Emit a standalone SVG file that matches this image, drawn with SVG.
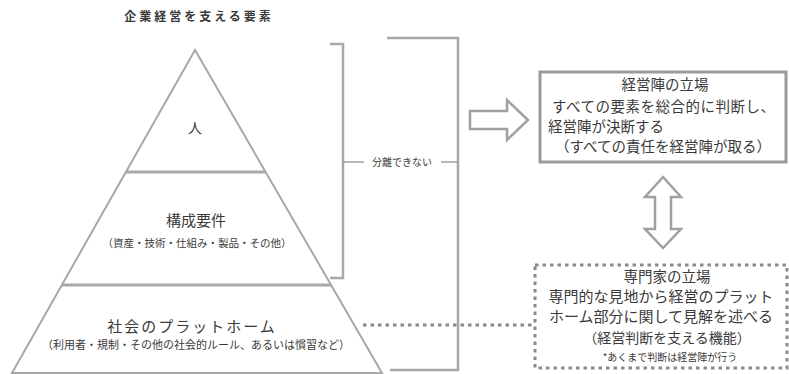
<svg xmlns="http://www.w3.org/2000/svg" width="789" height="374" viewBox="0 0 789 374">
<style>
text{font-family:"Noto Sans CJK JP","Noto Sans",sans-serif;fill:#3a3a3a}
.ln{fill:none;stroke:#a8a8a8;stroke-width:2}
.div{fill:none;stroke:#a8a8a8;stroke-width:3}
.br{fill:none;stroke:#a8a8a8;stroke-width:2.5}
.dot{fill:none;stroke:#8a8a8a;stroke-width:3;stroke-dasharray:3.5 4}
.blk{fill:#fff;stroke:#a0a0a0;stroke-width:2.5}
</style>
<rect width="789" height="374" fill="#fff"/>
<text x="199" y="21" font-size="12" font-weight="bold" text-anchor="middle" letter-spacing="3">企業経営を支える要素</text>
<g id="pyramid">
<polygon class="ln" points="195,50 12,373 382,373"/>
<line class="div" x1="126" y1="172" x2="266" y2="172"/>
<line class="div" x1="62" y1="285" x2="331" y2="285"/>
</g>
<g id="node-hito"><text x="195" y="133" font-size="14" text-anchor="middle">人</text></g>
<g id="node-kousei">
<text x="196" y="226" font-size="15" text-anchor="middle">構成要件</text>
<text x="197" y="247" font-size="10.5" text-anchor="middle">（資産・技術・仕組み・製品・その他）</text>
</g>
<g id="node-platform">
<text x="192" y="332" font-size="15" text-anchor="middle" letter-spacing="2">社会のプラットホーム</text>
<text x="196" y="349" font-size="11" text-anchor="middle">（利用者・規制・その他の社会的ルール、あるいは慣習など）</text>
</g>
<g id="node-keiei">
<rect x="540" y="72" width="246" height="90" fill="#fff" stroke="#9a9a9a" stroke-width="3"/>
<text x="665" y="90" font-size="14.5" text-anchor="middle">経営陣の立場</text>
<text x="552" y="112" font-size="14.5" letter-spacing="0.5">すべての要素を総合的に判断し、</text>
<text x="548" y="132" font-size="14.5">経営陣が決断する</text>
<text x="663" y="152" font-size="14.5" text-anchor="middle">（すべての責任を経営陣が取る）</text>
</g>
<g id="node-senmon">
<rect class="dot" x="535" y="265" width="252" height="103"/>
<text x="667" y="282" font-size="14.5" text-anchor="middle">専門家の立場</text>
<text x="661" y="302" font-size="15" text-anchor="middle">専門的な見地から経営のプラット</text>
<text x="661" y="322" font-size="15" text-anchor="middle">ホーム部分に関して見解を述べる</text>
<text x="667" y="343" font-size="14" text-anchor="middle">（経営判断を支える機能）</text>
<text x="670" y="361" font-size="10" text-anchor="middle">*あくまで判断は経営陣が行う</text>
</g>
<g id="connectors">
<path class="br" d="M330,44 H343 V278 H330"/>
<path class="br" d="M387,38 H458 V370 H390"/>
<line x1="343" y1="162" x2="364" y2="162" stroke="#a0a0a0" stroke-width="1.5"/>
<line x1="441" y1="162" x2="458" y2="162" stroke="#a0a0a0" stroke-width="1.5"/>
<text x="402" y="165.5" font-size="10" text-anchor="middle">分離できない</text>
<line class="dot" x1="363" y1="325" x2="533" y2="325"/>
<polygon class="blk" points="470,111 507,111 507,100 528,120 507,140 507,129 470,129"/>
<polygon class="blk" points="663,177 681,197 671,197 671,229 681,229 663,248 645,229 655,229 655,197 645,197"/>
</g>
</svg>
